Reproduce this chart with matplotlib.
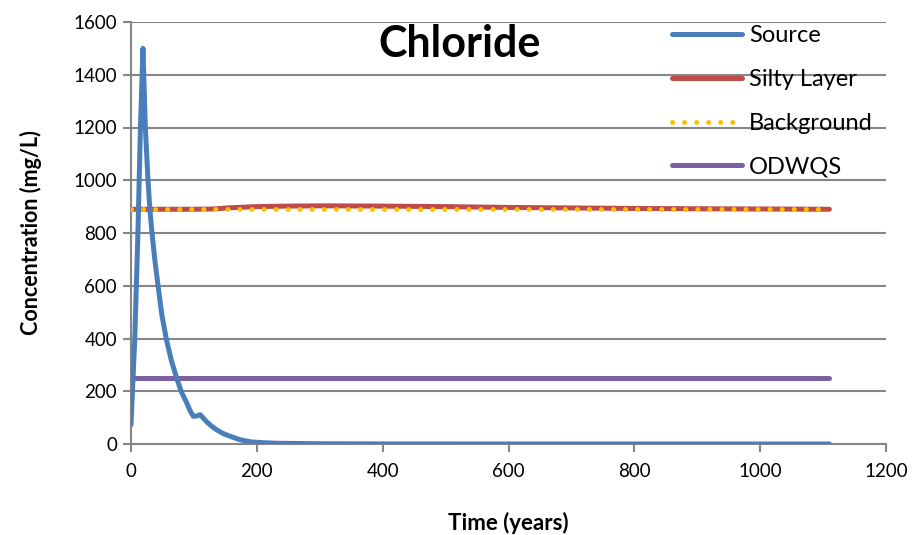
import matplotlib
matplotlib.use("Agg")
import matplotlib.pyplot as plt
import numpy as np

plt.rcParams['font.family'] = ['Lato', 'DejaVu Sans']

# Data
source_t = [0, 6, 11, 15, 19, 22.8, 27, 30, 33.4, 38, 43, 49, 56, 64, 72.6, 80, 88.5, 94, 99, 104, 110, 115, 120, 128, 136, 146, 158, 172, 190, 210, 230, 260, 300, 400, 600, 800, 1000, 1110]
source_c = [73, 400, 800, 1200, 1500, 1200, 1000, 890, 800, 695, 600, 490, 400, 318, 250, 198, 156, 126, 105, 106, 111, 98, 85, 68, 54, 40, 29, 17, 8, 5, 3, 2, 1, 0.3, 0.1, 0.05, 0.02, 0]

silty_t = [0, 100, 130, 160, 200, 250, 300, 400, 500, 600, 700, 800, 900, 1000, 1110]
silty_c = [890, 890, 891, 896, 900, 902, 903, 902, 900, 897, 895, 893, 892, 891, 890]

bg_t = [0, 1110]
bg_c = [890, 890]

odwqs_t = [0, 1110]
odwqs_c = [250, 250]

x_ticks = [0, 200, 400, 600, 800, 1000, 1200]
y_ticks = [0, 200, 400, 600, 800, 1000, 1200, 1400, 1600]

fig = plt.figure(figsize=(9.18, 5.35), dpi=100)
ax = fig.add_axes([131/918, 1-444/535, (886-131)/918, (444-22)/535])

lw = 3.6
ax.plot(source_t, source_c, color='#4A7EBB', lw=lw, label='Source', solid_capstyle='round', solid_joinstyle='round', zorder=5)
ax.plot(silty_t, silty_c, color='#BE4B48', lw=lw, label='Silty Layer', solid_capstyle='round', zorder=3)
ax.plot(bg_t, bg_c, color='#FFC000', lw=lw, linestyle=(0, (0.01, 2.4)), dash_capstyle='round', label='Background', zorder=4)
ax.plot(odwqs_t, odwqs_c, color='#7D60A0', lw=lw, label='ODWQS', solid_capstyle='round', zorder=3)

ax.set_xlim(0, 1200)
ax.set_ylim(0, 1600)
ax.set_xticks(x_ticks)
ax.set_yticks(y_ticks)
ax.tick_params(axis='both', labelsize=13.5, colors='#868686', labelcolor='black', length=6, width=1.5)
ax.tick_params(axis='y', pad=4)
ax.tick_params(axis='x', pad=8)
ax.grid(axis='y', color='#868686', lw=1.5)
ax.set_axisbelow(True)
for s in ['top', 'right']:
    ax.spines[s].set_visible(False)
for s in ['left', 'bottom']:
    ax.spines[s].set_color('#868686')
    ax.spines[s].set_linewidth(1.5)

ax.set_xlabel('Time (years)', fontsize=16, fontweight='bold', labelpad=23)
ax.set_ylabel('Concentration (mg/L)', fontsize=15.5, fontweight='bold', labelpad=23)

fig.text(460/918, 1-44/535, 'Chloride', fontsize=31, fontweight='bold', ha='center', va='center')

leg = ax.legend(loc='upper left', bbox_to_anchor=(672/918, 1-25/535), bbox_transform=fig.transFigure,
                frameon=False, fontsize=17, handlelength=2.95, handletextpad=0.3,
                labelspacing=0.97, borderpad=0, borderaxespad=0)

fig.savefig('out.png', dpi=100)
